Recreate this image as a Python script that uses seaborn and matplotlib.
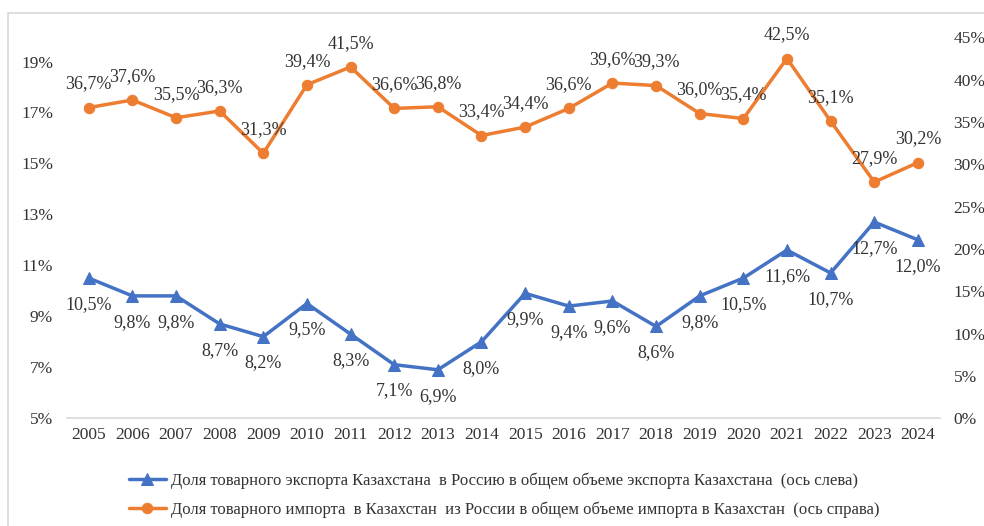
import matplotlib
matplotlib.use('Agg')
import matplotlib.pyplot as plt
import seaborn as sns
import pandas as pd
from matplotlib.patches import Rectangle

sns.set_style('white')
plt.rcParams['font.family'] = ['Liberation Serif', 'DejaVu Serif']

# data
years = list(range(2005, 2025))
export_share = [10.5, 9.8, 9.8, 8.7, 8.2, 9.5, 8.3, 7.1, 6.9, 8.0,
                9.9, 9.4, 9.6, 8.6, 9.8, 10.5, 11.6, 10.7, 12.7, 12.0]
import_share = [36.7, 37.6, 35.5, 36.3, 31.3, 39.4, 41.5, 36.6, 36.8, 33.4,
                34.4, 36.6, 39.6, 39.3, 36.0, 35.4, 42.5, 35.1, 27.9, 30.2]
left_ticks = [5, 7, 9, 11, 13, 15, 17, 19]
right_ticks = [0, 5, 10, 15, 20, 25, 30, 35, 40, 45]

label_export = 'Доля товарного экспорта Казахстана  в Россию в общем объеме экспорта Казахстана  (ось слева)'
label_import = 'Доля товарного импорта  в Казахстан  из России в общем объеме импорта в Казахстан  (ось справа)'

df = pd.DataFrame({'year': years, 'export': export_share, 'import': import_share})

blue = '#4472C4'
orange = '#ED7D31'
txt = '#333333'

fig = plt.figure(figsize=(9.84, 5.26), dpi=100)
ax = fig.add_axes([0.068, 0.205, 0.887, 0.724])
ax2 = ax.twinx()

sns.lineplot(data=df, x='year', y='export', ax=ax, color=blue, linewidth=2.5,
             marker='^', markersize=8.5, markeredgecolor=blue, label=label_export, legend=False)
sns.lineplot(data=df, x='year', y='import', ax=ax2, color=orange, linewidth=2.5,
             marker='o', markersize=7.5, markeredgecolor=orange, label=label_import, legend=False)

def fmt(v):
    return f'{v:.1f}%'.replace('.', ',')

for x, v in zip(years, export_share):
    ax.annotate(fmt(v), (x, v), xytext=(0, -19), textcoords='offset points',
                ha='center', va='center', fontsize=13, color=txt)
for x, v in zip(years, import_share):
    ax2.annotate(fmt(v), (x, v), xytext=(0, 17), textcoords='offset points',
                 ha='center', va='center', fontsize=13, color=txt)

ax.set_xlim(2004.5, 2024.5)
ax.set_ylim(5, 19.95)
ax2.set_ylim(0, 45)
ax.set_xticks(years)
ax.set_xticklabels([str(y) for y in years])
ax.set_yticks(left_ticks)
ax.set_yticklabels([f'{t}%' for t in left_ticks])
ax2.set_yticks(right_ticks)
ax2.set_yticklabels([f'{t}%' for t in right_ticks])
ax.set_xlabel('')
ax.set_ylabel('')
ax2.set_ylabel('')

for a in (ax, ax2):
    for s in a.spines.values():
        s.set_visible(False)
    a.tick_params(length=0, labelsize=12.5, colors=txt)
ax.spines['bottom'].set_visible(True)
ax.spines['bottom'].set_color('#d9d9d9')
ax.spines['bottom'].set_linewidth(1.2)
ax.tick_params(axis='y', pad=10)
ax2.tick_params(axis='y', pad=10)
ax.tick_params(axis='x', pad=6)

h1, l1 = ax.get_legend_handles_labels()
h2, l2 = ax2.get_legend_handles_labels()
fig.legend(h1 + h2, l1 + l2, loc='upper left', bbox_to_anchor=(0.116, 0.13),
           frameon=False, fontsize=12, handlelength=2.2, labelspacing=0.75,
           handletextpad=0.3, labelcolor=txt)

# light chart border (only top and left edges visible in the crop)
fig.patches.append(Rectangle((8 / 984, -0.05), 1.1, 1 - 13 / 526 + 0.05,
                             transform=fig.transFigure, fill=False,
                             edgecolor='#d9d9d9', linewidth=1.2))

fig.savefig('out.png', dpi=100)
